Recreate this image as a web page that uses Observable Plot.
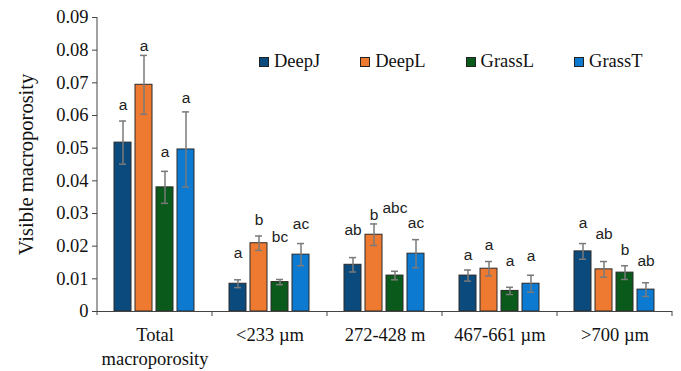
<!DOCTYPE html>
<html>
<head>
<meta charset="utf-8">
<script src="https://cdn.jsdelivr.net/npm/d3@7"></script>
<script src="https://cdn.jsdelivr.net/npm/@observablehq/plot@0.6"></script>
<style>
  html, body { margin: 0; padding: 0; background: #fff; }
  #wrap { position: relative; width: 681px; height: 371px; }
  #legend { position: absolute; left: 259px; top: 51px; display: flex; gap: 40px;
            font-family: "Liberation Serif", "DejaVu Serif", serif; font-size: 18.5px; color: #111; }
  #legend .item { display: flex; align-items: center; gap: 5px; }
  #legend .sw { width: 8px; height: 8px; border: 1px solid #222; }
</style>
</head>
<body>
<div id="wrap"><div id="legend"></div></div>
<script>
const categories = ["Total\nmacroporosity", "<233 µm", "272-428 m", "467-661 µm", ">700 µm"];
const series = ["DeepJ", "DeepL", "GrassL", "GrassT"];
const colors = ["#0b4a7c", "#ee7a32", "#0a5a1c", "#0b7ad0"];

const meanDeepJ  = [0.0517, 0.0085, 0.0143, 0.0110, 0.0184];
const meanDeepL  = [0.0694, 0.0209, 0.0235, 0.0131, 0.0129];
const meanGrassL = [0.0380, 0.0090, 0.0110, 0.0063, 0.0119];
const meanGrassT = [0.0496, 0.0174, 0.0177, 0.0085, 0.0067];

const errDeepJ  = [0.0066, 0.0012, 0.0022, 0.0017, 0.0024];
const errDeepL  = [0.0090, 0.0022, 0.0033, 0.0022, 0.0024];
const errGrassL = [0.0049, 0.0008, 0.0013, 0.0011, 0.0021];
const errGrassT = [0.0115, 0.0034, 0.0043, 0.0026, 0.0021];

const letDeepJ  = ["a", "a", "ab", "a", "a"];
const letDeepL  = ["a", "b", "b", "a", "ab"];
const letGrassL = ["a", "bc", "abc", "a", "b"];
const letGrassT = ["a", "ac", "ac", "a", "ab"];

const labYDeepJ  = [0.0631, 0.0178, 0.0250, 0.0174, 0.0271];
const labYDeepL  = [0.0814, 0.0279, 0.0296, 0.0202, 0.0238];
const labYGrassL = [0.0487, 0.0227, 0.0317, 0.0153, 0.0189];
const labYGrassT = [0.0652, 0.0269, 0.0271, 0.0171, 0.0153];

const yTicks = [0, 0.01, 0.02, 0.03, 0.04, 0.05, 0.06, 0.07, 0.08, 0.09];

const means = [meanDeepJ, meanDeepL, meanGrassL, meanGrassT];
const errs = [errDeepJ, errDeepL, errGrassL, errGrassT];
const lets = [letDeepJ, letDeepL, letGrassL, letGrassT];
const labYs = [labYDeepJ, labYDeepL, labYGrassL, labYGrassT];

const rows = [];
series.forEach((s, si) => categories.forEach((c, ci) => rows.push({
  cat: c, series: s, v: means[si][ci],
  lo: means[si][ci] - errs[si][ci], hi: means[si][ci] + errs[si][ci],
  letter: lets[si][ci], ly: labYs[si][ci]
})));

const serif = "Liberation Serif, DejaVu Serif, serif";
const sans = "Liberation Sans, Arial, sans-serif";

const plot = Plot.plot({
  width: 681, height: 371,
  marginTop: 17, marginBottom: 60, marginLeft: 97, marginRight: 9,
  style: { background: "#fff", overflow: "visible" },
  fx: { domain: categories, padding: 0, label: null },
  x: { domain: series, paddingInner: 0.19, paddingOuter: 0.83, axis: null },
  y: { domain: [0, 0.09] },
  color: { domain: series, range: colors },
  marks: [
    Plot.barY(rows, { fx: "cat", x: "series", y: "v", fill: "series", stroke: "#2a2a2a", strokeWidth: 1 }),
    Plot.ruleX(rows, { fx: "cat", x: "series", y1: "lo", y2: "hi", stroke: "#7a7a7a", strokeWidth: 1.5 }),
    Plot.tickY(rows, { fx: "cat", x: "series", y: "lo", stroke: "#7a7a7a", strokeWidth: 1.5, insetLeft: 5, insetRight: 5 }),
    Plot.tickY(rows, { fx: "cat", x: "series", y: "hi", stroke: "#7a7a7a", strokeWidth: 1.5, insetLeft: 5, insetRight: 5 }),
    Plot.text(rows, { fx: "cat", x: "series", y: "ly", text: "letter", fontFamily: sans, fontSize: 15.5, fill: "#222" }),
    Plot.ruleY([0], { stroke: "#444", strokeWidth: 1 }),
    Plot.axisY({ ticks: yTicks, tickFormat: d => d === 0 ? "0" : d.toFixed(2), tickSize: 5, tickPadding: 4,
      fontFamily: serif, fontSize: 18.5, label: null, stroke: "#444", color: "#111" }),
    Plot.axisY({ ticks: [], tickSize: 0, label: "Visible macroporosity", labelAnchor: "center", labelArrow: "none",
      labelOffset: 79, fontFamily: serif, fontSize: 20.5, color: "#111" }),
    Plot.axisFx({ anchor: "bottom", tickSize: 0, tickPadding: 12, fontFamily: serif, fontSize: 18.5,
      lineHeight: 1.3, label: null, color: "#111" })
  ]
});

const svg = d3.select(plot);
const fx = plot.scale("fx");
const y = plot.scale("y");
const y0 = y.apply(0), yTop = y.apply(0.09);
const left = fx.apply(categories[0]);
svg.append("line").attr("x1", left).attr("x2", left).attr("y1", yTop).attr("y2", y0 + 4)
  .attr("stroke", "#444").attr("stroke-width", 1);
categories.forEach(c => {
  const xr = fx.apply(c) + fx.bandwidth;
  svg.append("line").attr("x1", xr).attr("x2", xr).attr("y1", y0).attr("y2", y0 + 5)
    .attr("stroke", "#444").attr("stroke-width", 1);
});

document.getElementById("wrap").prepend(plot);
const legend = document.getElementById("legend");
series.forEach((s, i) => {
  const it = document.createElement("div");
  it.className = "item";
  it.innerHTML = `<span class="sw" style="background:${colors[i]}"></span><span>${s}</span>`;
  legend.appendChild(it);
});
</script>
</body>
</html>
